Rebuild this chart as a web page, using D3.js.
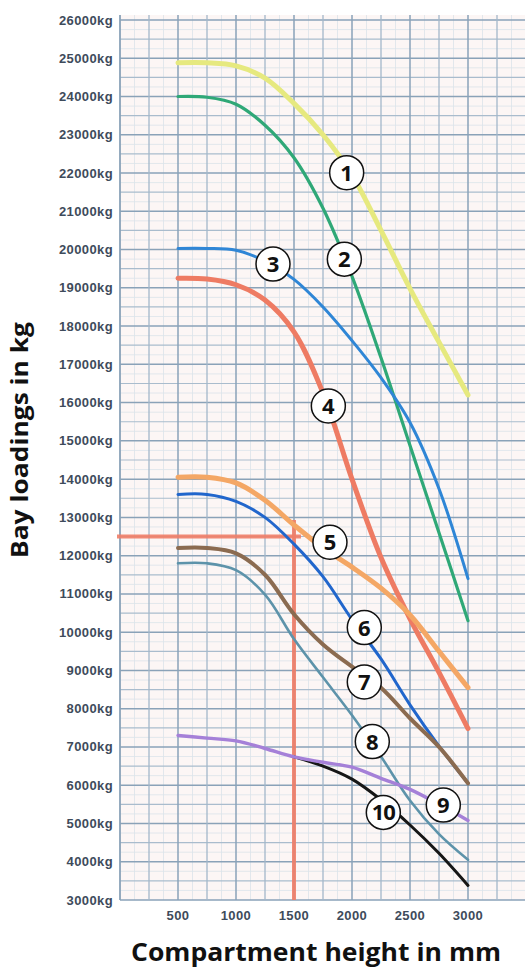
<!DOCTYPE html>
<html>
<head>
<meta charset="utf-8">
<script src="https://cdn.jsdelivr.net/npm/d3@7"></script>
<style>
  body { margin: 0; background: #fff; }
  svg { display: block; }
</style>
</head>
<body>
<div id="chart"></div>
<script>
(function(){
  var width = 525,
      height = 967;

  // compartment heights (mm) where the curves were read
  var heights = [500, 750, 1000, 1250, 1500, 1750, 2000, 2250, 2500, 2750, 3000];
  var heightsTail = [1500, 1750, 2000, 2250, 2500, 2750, 3000];

  // bay loadings (kg) per curve
  var load1 = [24880, 24880, 24800, 24480, 23820, 23000, 21950, 20500, 18980, 17580, 16200];
  var load2 = [24000, 23980, 23800, 23250, 22400, 21080, 19300, 17170, 14880, 12600, 10300];
  var load3 = [20030, 20030, 19980, 19700, 19220, 18500, 17620, 16650, 15480, 13750, 11400];
  var load4 = [19250, 19230, 19080, 18680, 17850, 16250, 14000, 11950, 10350, 8950, 7480];
  var load5 = [14050, 14050, 13900, 13450, 12800, 12200, 11700, 11150, 10450, 9500, 8550];
  var load6 = [13600, 13600, 13420, 13000, 12300, 11450, 10330, 9300, 8100, 7020, 6050];
  var load7 = [12200, 12200, 12060, 11500, 10470, 9680, 9100, 8550, 7750, 7000, 6050];
  var load8 = [11800, 11800, 11620, 10980, 9820, 8820, 7830, 6750, 5600, 4720, 4050];
  var load9 = [7300, 7230, 7160, 6960, 6740, 6600, 6470, 6180, 5890, 5500, 5080];
  var load10 = [6740, 6500, 6160, 5620, 4960, 4220, 3380];

  // example read-off (red lines)
  var refHeight = 1500, refLoad = 12500, refTop = 12930, refEnd = 1560;

  // tick labels
  var yTicks = d3.range(3000, 26001, 1000);
  var xTicks = [500, 1000, 1500, 2000, 2500, 3000];

  // number badges (anchored in data units)
  var labelIds = ['1', '2', '3', '4', '5', '6', '7', '8', '9', '10'];
  var labelHeights = [1954, 1934, 1319, 1796, 1810, 2106, 2106, 2175, 2787, 2270];
  var labelLoads = [22010, 19750, 19620, 15910, 12350, 10120, 8700, 7140, 5480, 5290];

  var series = [
    {id: 1, xs: heights, ys: load1, color: '#e6e97f', w: 5},
    {id: 2, xs: heights, ys: load2, color: '#2fa877', w: 3.2},
    {id: 3, xs: heights, ys: load3, color: '#2f86d6', w: 3},
    {id: 4, xs: heights, ys: load4, color: '#ee7b63', w: 5},
    {id: 5, xs: heights, ys: load5, color: '#f4a765', w: 5},
    {id: 6, xs: heights, ys: load6, color: '#2166cc', w: 3},
    {id: 7, xs: heights, ys: load7, color: '#8b6b50', w: 4},
    {id: 8, xs: heights, ys: load8, color: '#5d93aa', w: 2.6},
    {id: 10, xs: heightsTail, ys: load10, color: '#161616', w: 3},
    {id: 9, xs: heights, ys: load9, color: '#a580d8', w: 3.4}
  ];

  var svg = d3.select('#chart')
    .append('svg')
    .attr('width', width)
    .attr('height', height);

  var x = d3.scaleLinear().domain([0, 3500]).range([120, 526]);
  var y = d3.scaleLinear().domain([3000, 26000]).range([900, 20]);

  var plotTop = y(26000) - 5;

  svg.append('rect')
    .attr('x', x(0)).attr('y', plotTop)
    .attr('width', x(3500) - x(0)).attr('height', y(3000) - plotTop)
    .attr('fill', '#fcf6f5');

  var grid = svg.append('g');

  // faint graph-paper lines
  grid.selectAll('.hf')
    .data(d3.range(3250, 26000, 500))
    .enter().append('line')
    .attr('x1', x(0)).attr('x2', x(3500))
    .attr('y1', function(d){ return y(d) }).attr('y2', function(d){ return y(d) })
    .attr('stroke', '#dbe3ea').attr('stroke-width', 0.8);
  grid.selectAll('.vf')
    .data(d3.range(125, 3500, 250))
    .enter().append('line')
    .attr('y1', plotTop).attr('y2', y(3000))
    .attr('x1', function(d){ return x(d) }).attr('x2', function(d){ return x(d) })
    .attr('stroke', '#dbe3ea').attr('stroke-width', 0.8);

  // horizontal grid every 500 kg, 1000 darker
  grid.selectAll('.h')
    .data(d3.range(3000, 26001, 500))
    .enter().append('line')
    .attr('x1', x(0)).attr('x2', x(3500))
    .attr('y1', function(d){ return y(d) }).attr('y2', function(d){ return y(d) })
    .attr('stroke', function(d){ return d % 1000 == 0 ? '#8aa2b8' : '#a9bccd' })
    .attr('stroke-width', function(d){ return d % 1000 == 0 ? 1.5 : 1.2 });

  // vertical grid every 250 mm
  grid.selectAll('.v')
    .data(d3.range(0, 3501, 250))
    .enter().append('line')
    .attr('y1', plotTop).attr('y2', y(3000))
    .attr('x1', function(d){ return x(d) }).attr('x2', function(d){ return x(d) })
    .attr('stroke', function(d){ return d % 500 == 0 ? '#8aa2b8' : '#a3b7c9' })
    .attr('stroke-width', function(d){ return d == 0 ? 1.8 : (d % 500 == 0 ? 1.5 : 1.3) });

  // red read-off lines
  svg.append('line')
    .attr('x1', x(0) - 3).attr('x2', x(refEnd))
    .attr('y1', y(refLoad)).attr('y2', y(refLoad))
    .attr('stroke', '#f07d67').attr('stroke-width', 4).attr('stroke-opacity', 0.9);
  svg.append('line')
    .attr('x1', x(refHeight)).attr('x2', x(refHeight))
    .attr('y1', y(refTop)).attr('y2', y(3000))
    .attr('stroke', '#f07d67').attr('stroke-width', 4).attr('stroke-opacity', 0.9);

  var line = d3.line()
    .x(function(d){ return x(d[0]) })
    .y(function(d){ return y(d[1]) })
    .curve(d3.curveCatmullRom.alpha(0.5));

  svg.selectAll('.curve')
    .data(series)
    .enter().append('path')
    .attr('class', 'curve')
    .attr('d', function(s){ return line(d3.zip(s.xs, s.ys)) })
    .attr('fill', 'none')
    .attr('stroke', function(s){ return s.color })
    .attr('stroke-width', function(s){ return s.w })
    .attr('stroke-linecap', 'round');

  // axis labels
  var tickFont = '"Liberation Sans", Arial, sans-serif';
  svg.selectAll('.ytick')
    .data(yTicks)
    .enter().append('text')
    .attr('x', 113)
    .attr('y', function(d){ return y(d) + 4.5 })
    .attr('text-anchor', 'end')
    .attr('font-family', tickFont)
    .attr('font-weight', 'bold')
    .attr('font-size', 13)
    .attr('letter-spacing', 0.4)
    .attr('fill', '#3e4b5b')
    .text(function(d){ return d + 'kg' });

  svg.selectAll('.xtick')
    .data(xTicks)
    .enter().append('text')
    .attr('x', function(d){ return x(d) })
    .attr('y', 920)
    .attr('text-anchor', 'middle')
    .attr('font-family', tickFont)
    .attr('font-weight', 'bold')
    .attr('font-size', 13)
    .attr('letter-spacing', 0.4)
    .attr('fill', '#3e4b5b')
    .text(function(d){ return d });

  var titleFont = '"Open Sans", "Noto Sans", sans-serif';
  svg.append('text')
    .attr('transform', 'translate(28,440) rotate(-90)')
    .attr('text-anchor', 'middle')
    .attr('font-family', titleFont)
    .attr('font-weight', 'bold')
    .attr('font-size', 23)
    .attr('textLength', 236)
    .attr('lengthAdjust', 'spacingAndGlyphs')
    .attr('fill', '#111')
    .text('Bay loadings in kg');

  svg.append('text')
    .attr('x', 316)
    .attr('y', 961)
    .attr('text-anchor', 'middle')
    .attr('font-family', titleFont)
    .attr('font-weight', 'bold')
    .attr('font-size', 25)
    .attr('textLength', 370)
    .attr('lengthAdjust', 'spacingAndGlyphs')
    .attr('fill', '#111')
    .text('Compartment height in mm');

  // numbered badges
  var badges = svg.selectAll('.badge')
    .data(d3.range(labelIds.length))
    .enter().append('g')
    .attr('class', 'badge')
    .attr('transform', function(i){ return 'translate(' + x(labelHeights[i]) + ',' + y(labelLoads[i]) + ')' });

  badges.append('circle')
    .attr('r', 17)
    .attr('fill', '#fff')
    .attr('stroke', '#111')
    .attr('stroke-width', 1.5);

  badges.append('text')
    .attr('y', 8)
    .attr('text-anchor', 'middle')
    .attr('font-family', titleFont)
    .attr('font-weight', 'bold')
    .attr('font-size', 22)
    .attr('letter-spacing', function(i){ return labelIds[i].length > 1 ? -1 : 0 })
    .attr('fill', '#111')
    .text(function(i){ return labelIds[i] });
})()
</script>
</body>
</html>
